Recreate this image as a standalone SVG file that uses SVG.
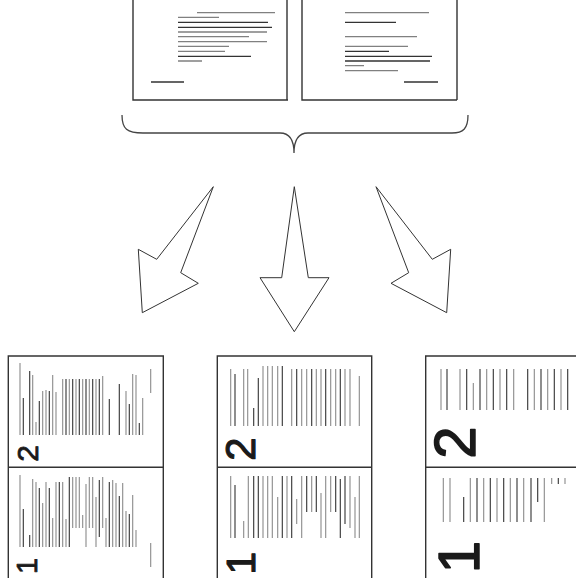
<svg xmlns="http://www.w3.org/2000/svg" width="576" height="578" viewBox="0 0 576 578">
<style>
.pg{fill:none;stroke:#333;stroke-width:1.4}
.g{stroke:#8a8a8a;stroke-width:1.1;fill:none}
.d{stroke:#333;stroke-width:1.1;fill:none}
.tg{stroke:#808080;stroke-width:1.3;fill:none}
.td{stroke:#333;stroke-width:1.3;fill:none}
.ar{fill:#fff;stroke:#333;stroke-width:1}
.br{fill:none;stroke:#444;stroke-width:1.3}
.num{font-family:"Liberation Sans",Arial,sans-serif;fill:#1a1a1a;stroke:#1a1a1a;stroke-linejoin:round;text-anchor:middle}
</style>
<rect width="576" height="578" fill="#fff"/>
<g id="source-page-left">
<path class="pg" d="M133,0 V100 H288 M287,0 V100"/>
<path class="tg" d="M197,12.7H275 M178,17.3H219 M178,32H267 M178,36.7H249 M178,41.7H267 M178,46.3H229 M178,51.3H225 M178,61H202"/>
<path class="td" d="M178,22.3H268 M178,27.3H272 M178,56.3H251 M151,82H184"/>
</g>
<g id="source-page-right">
<path class="pg" d="M302,0 V100 H457 M457,0 V100"/>
<path class="tg" d="M345,12.7H429 M345,36.7H417 M345,46.3H408 M345,65.7H364 M345,70.7H398"/>
<path class="td" d="M345,22.3H396 M345,51.3H389 M345,56.3H432 M345,61H430 M404,82H438"/>
</g>
<g id="brace">
<path class="br" d="M122,115 C122,129 127,133 143,133 L280,133 C290,133 294,141 294,153 C294,141 298,133 308,133 L452,133 C463,133 468,129 468,115"/>
</g>
<g id="connectors">
<polygon class="ar" points="213.3,186.7 156.7,259.3 138.3,249.3 142.3,312.7 198.3,283.3 180.7,272.7"/>
<polygon class="ar" points="294.3,186.7 308.3,277.7 329,277.7 294.3,331.7 260,277.7 281.7,277.7"/>
<polygon class="ar" points="376,186.7 432.3,259.3 450.7,249.3 446.7,312.7 391,283.3 408.7,272.7"/>
</g>
<g id="result-left">
<path class="pg" d="M8.3,580 V356 H163.3 V580 M8.3,467.3 H163.3"/>
<path class="g" d="M20,363V435 M32.7,375V435 M36,422V435 M42.7,391V435 M46,390V435 M52.7,375V435 M56,392V435 M62.7,379V435 M69.3,379V435 M76,379V435 M82.7,379V435 M89.3,379V435 M96,379V435 M102.7,376V435 M126,391V435 M132.7,374V435 M136,375V435 M142.7,398V435 M150.7,369V393"/>
<path class="d" d="M23.3,398V435 M29.7,371V435 M39.3,401V435 M49.3,391V435 M66,379V435 M72.7,379V435 M79.3,379V435 M86,379V435 M92.7,379V435 M99.3,379V435 M109.3,399V435 M119.3,384V435 M129.3,404V435 M139.3,423V435"/>
<path class="g" d="M20,475V547 M32.7,479V547 M36,482V547 M42.7,503V547 M46,482V547 M52.7,518V547 M56,482V547 M62.7,482V547 M66,519V547 M72.7,477V528 M76,477V528 M79.3,477V528 M82.7,515V528 M86,484V547 M89.3,477V528 M92.7,477V528 M96,497V547 M102.7,477V528 M106,518V547 M112.7,480V547 M116,483V547 M122.7,483V547 M126,511V547 M132.7,495V547 M136,530V547 M150.7,543V567"/>
<path class="d" d="M23.3,509V547 M29.7,535V547 M39.3,488V547 M49.3,488V547 M59.3,482V547 M69.3,477V547 M99.3,480V537 M109.3,482V547 M119.3,496V547 M129.3,514V547"/>
<text class="num" font-size="30" stroke-width="0.8" transform="translate(38.3,453.5) rotate(-90)">2</text>
<text class="num" font-size="29" stroke-width="0.8" transform="translate(37.3,566) rotate(-90)">1</text>
</g>
<g id="result-middle">
<path class="pg" d="M217.3,580 V356 H371.7 V580 M217.3,467.3 H371.7"/>
<path class="g" d="M230.7,369V426 M243.7,369V426 M247.7,369V426 M263,366V426 M267.7,366V426 M272.3,366V426 M277.7,366V426 M291.7,369V426 M301.7,369V426 M306.7,369V426 M316.3,369V426 M321,369V426 M330.7,369V426 M335.7,369V426 M345,369V426 M350,369V426 M359.3,376V426"/>
<path class="d" d="M235,374V426 M253.7,408V426 M258.3,378V426 M282.3,366V426 M296.7,369V426 M311.7,369V426 M325.7,369V426 M340.3,369V426"/>
<path class="g" d="M230.7,476V538 M243.7,521V538 M248.3,476V538 M263,476V538 M267.7,476V538 M272.3,476V538 M277.7,497V538 M287,476V538 M296.7,499V524 M301.7,476V538 M311.7,476V512 M321,493V538 M325.7,476V538 M330.7,476V512 M350,476V528 M355,497V538 M359.3,476V538"/>
<path class="d" d="M235,485V538 M253.7,476V538 M258.3,476V538 M282.3,476V538 M291.7,476V538 M306.7,476V512 M316.3,476V512 M335.7,476V512 M340.3,479V538 M345,476V524"/>
<text class="num" font-size="42" stroke-width="1.1" transform="translate(255.3,449) rotate(-90)">2</text>
<text class="num" font-size="41" stroke-width="1.1" transform="translate(255.3,563) rotate(-90)">1</text>
</g>
<g id="result-right">
<path class="pg" d="M425.7,580 V356 H580 M425.7,467.3 H580"/>
<path class="g" d="M441,369V410 M460,369V410 M473.3,383V410 M486.7,369V410 M500,369V410 M513.7,369V410 M534.3,369V410 M547.7,369V410 M561,369V410"/>
<path class="d" d="M447,369V410 M466.7,369V410 M480,369V410 M493.3,369V410 M506.7,369V410 M527.7,369V410 M541,369V410 M554.3,369V410 M567.7,369V410"/>
<path class="g" d="M443.3,478V522 M450,478V522 M470.3,478V522 M483.7,478V522 M497,478V522 M510.3,478V522 M523.7,478V522 M544.3,478V522 M551.7,478V484 M565,478V484"/>
<path class="d" d="M463.7,497V522 M477,478V522 M490.3,478V522 M503.7,478V522 M517,478V522 M531,478V522 M537.7,478V502 M558.3,478V484"/>
<text class="num" font-size="58" stroke-width="1.5" transform="translate(475,442.5) rotate(-90)">2</text>
<text class="num" font-size="58" stroke-width="1.5" transform="translate(479,557) rotate(-90)">1</text>
</g>
</svg>
